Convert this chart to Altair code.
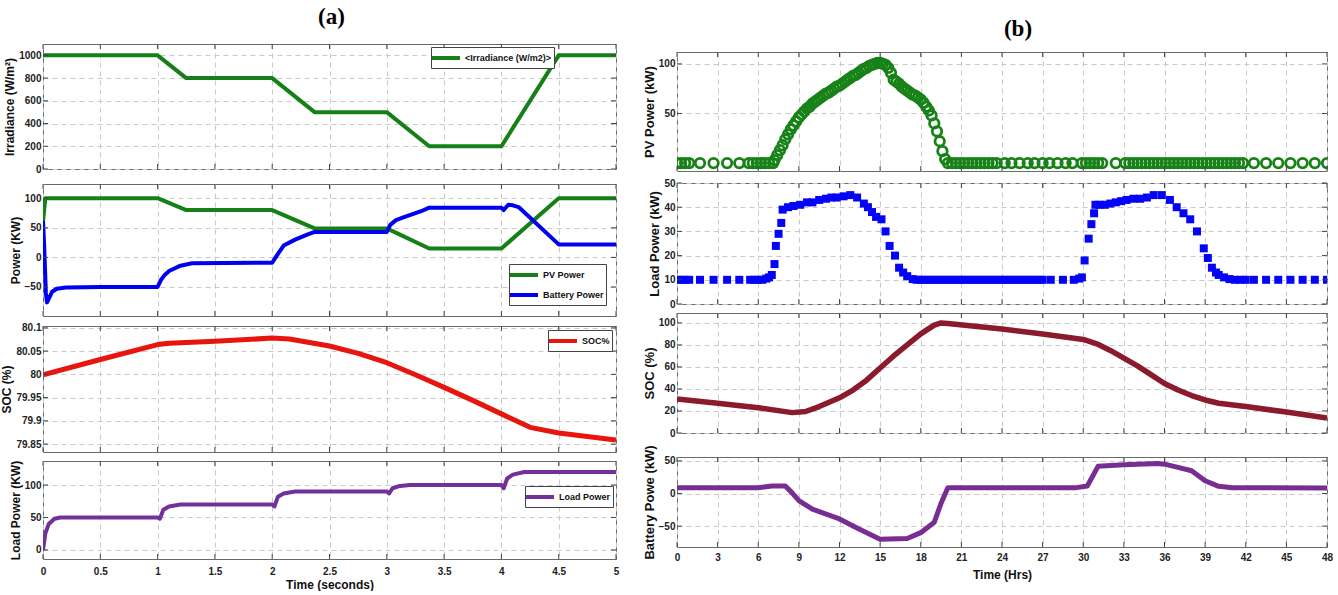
import altair as alt
import pandas as pd

LBL = "Liberation Sans, Arial, sans-serif"
SANS = "Liberation Sans, Arial, sans-serif"
SERIF = "Liberation Serif, Times New Roman, serif"

# ---------------- (a) data ----------------
left_xticks = [0, 0.5, 1, 1.5, 2, 2.5, 3, 3.5, 4, 4.5, 5]

irr_t = [0, 1.0, 1.25, 2.0, 2.37, 3.0, 3.37, 4.0, 4.5, 5.0]
irr_v = [1000, 1000, 800, 800, 500, 500, 200, 200, 1000, 1000]

pv_a_t = [0, 0.02, 1.0, 1.25, 2.0, 2.37, 3.0, 3.37, 4.0, 4.5, 5.0]
pv_a_v = [60, 100, 100, 80, 80, 49, 49, 15, 15, 100, 100]

bat_a_t = [0, 0.01, 0.025, 0.035, 0.05, 0.08, 0.12, 0.2, 0.5, 1.0, 1.03, 1.06, 1.1, 1.2, 1.3, 2.0,
           2.02, 2.05, 2.1, 2.2, 2.3, 2.37, 3.0, 3.03, 3.08, 3.15, 3.3, 3.37, 4.0, 4.02, 4.06, 4.1,
           4.15, 4.5, 5.0]
bat_a_v = [62, 20, -60, -76, -70, -58, -53, -51, -50, -50, -38, -30, -23, -14, -10, -9,
           -3, 6, 20, 30, 38, 43, 43, 55, 63, 68, 78, 84, 84, 80, 89, 88,
           85, 22, 22]

soc_a_t = [0, 0.5, 1.0, 1.1, 1.5, 2.0, 2.15, 2.5, 2.75, 3.0, 3.25, 3.5, 3.75, 4.0, 4.25, 4.5, 5.0]
soc_a_v = [79.999, 80.032, 80.064, 80.067, 80.071, 80.078, 80.076, 80.061, 80.045, 80.025, 79.999,
           79.972, 79.944, 79.915, 79.886, 79.874, 79.859]

load_a_t = [0, 0.02, 0.05, 0.1, 0.15, 1.0, 1.02, 1.05, 1.1, 1.2, 2.0, 2.02, 2.05, 2.1, 2.2, 3.0,
            3.02, 3.05, 3.1, 3.2, 4.0, 4.02, 4.05, 4.1, 4.2, 5.0]
load_a_v = [0, 25, 40, 48, 50, 50, 48, 62, 67, 70, 70, 67, 82, 87, 90, 90,
            87, 95, 98, 100, 100, 95, 110, 116, 120, 120]

# ---------------- (b) data ----------------
right_xticks = [0, 3, 6, 9, 12, 15, 18, 21, 24, 27, 30, 33, 36, 39, 42, 45, 48]

pv_b_t = [0, 0.3, 0.6, 0.9, 1.7, 2.7, 3.7, 4.6, 5.3, 5.6, 5.9, 6.2, 6.5, 6.8, 7.1,
          7.2, 7.4, 7.6, 7.8, 8.0, 8.2, 8.4, 8.6, 8.8, 9.0, 9.2, 9.4, 9.6, 9.8, 10.0, 10.2,
          10.4, 10.6, 10.8, 11.0, 11.2, 11.4, 11.6, 11.8, 12.0, 12.2, 12.4, 12.6, 12.8, 13.0,
          13.2, 13.4, 13.6, 13.8, 14.0, 14.2, 14.4, 14.6, 14.8, 15.0, 15.2, 15.4, 15.6, 15.8,
          16.0, 16.2, 16.4, 16.6, 16.8, 17.0, 17.2, 17.4, 17.6, 17.8, 18.0, 18.2, 18.4, 18.6,
          18.8, 19.0, 19.2, 19.4, 19.6, 19.8,
          20.0, 20.3, 20.6, 20.9, 21.2, 21.5, 21.8, 22.1, 22.4, 22.7, 23.0, 23.3, 23.6,
          24.2, 24.7, 25.3, 25.9, 26.4, 27.0, 27.5, 28.1, 28.7, 29.2,
          29.9, 30.2, 30.5, 30.8, 31.1, 31.4, 32.4,
          33.1, 33.4, 33.7, 34.0, 34.3, 34.6, 34.9, 35.2, 35.5, 35.8, 36.1, 36.4, 36.7, 37.0,
          37.3, 37.6, 37.9, 38.2, 38.5, 38.8, 39.1, 39.4, 39.7, 40.0, 40.3, 40.6, 40.9, 41.2,
          41.5, 41.8,
          42.6, 43.5, 44.4, 45.3, 46.2, 47.1, 48.0]
pv_b_v = [0, 0, 0, 0, 0, 0, 0, 0, 0, 0, 0, 0, 0, 0, 0,
          3, 8, 13, 18, 24, 29, 34, 38, 42, 46, 49, 52, 55, 57, 60, 62,
          64, 66, 68, 70, 71, 73, 75, 77, 78, 80, 82, 84, 86, 88,
          89, 91, 93, 95, 96, 98, 99, 100, 101, 101, 100, 99, 96, 91,
          84, 82, 80, 77, 75, 73, 71, 69, 68, 66, 64, 61, 57, 53,
          48, 40, 32, 22, 12, 4,
          0, 0, 0, 0, 0, 0, 0, 0, 0, 0, 0, 0, 0,
          0, 0, 0, 0, 0, 0, 0, 0, 0, 0,
          0, 0, 0, 0, 0, 0, 0,
          0, 0, 0, 0, 0, 0, 0, 0, 0, 0, 0, 0, 0, 0,
          0, 0, 0, 0, 0, 0, 0, 0, 0, 0, 0, 0, 0, 0,
          0, 0,
          0, 0, 0, 0, 0, 0, 0]

load_b_t = [0, 0.3, 0.6, 0.9, 1.7, 2.7, 3.7, 4.6, 5.4, 5.7, 6.0, 6.3, 6.6,
            6.8, 7.0, 7.2, 7.3, 7.5, 7.7, 7.8, 8.2, 8.6, 9.1, 9.6, 10.0, 10.5, 11.0, 11.4, 11.8,
            12.3, 12.8, 13.3, 13.8, 14.1, 14.4, 14.7, 15.1, 15.4, 15.7, 16.1, 16.4, 16.7, 17.0,
            17.4, 17.7, 18.0, 18.3, 18.6, 18.9, 19.2, 19.5, 19.8, 20.1, 20.4, 20.7, 21.0, 21.3,
            21.6, 21.9, 22.2, 22.5, 22.8, 23.1, 23.4, 23.7, 24.0, 24.3, 24.6, 24.9, 25.2, 25.5,
            25.8, 26.1, 26.4, 26.7, 27.0, 27.6, 28.5, 29.3,
            29.7, 29.9, 30.1, 30.4, 30.6, 30.8, 30.9, 31.2, 31.6, 32.0, 32.4, 32.8, 33.2, 33.7,
            34.2, 34.7, 35.2, 35.8, 36.4, 36.9, 37.4, 37.9, 38.4, 38.9, 39.2, 39.5, 39.8, 40.0,
            40.4, 40.8, 41.2, 41.6, 42.0, 42.6, 43.5, 44.4, 45.3, 46.2, 47.1, 48.0]
load_b_v = [10, 10, 10, 10, 10, 10, 10, 10, 10, 10, 10, 10, 10.5,
            11, 12, 16.5, 24, 29, 33.5, 39, 40, 40.5, 41, 42, 42, 43, 43.5, 44, 44,
            44.5, 45, 44, 41.5, 40, 38, 36, 35, 30, 24, 20, 15, 13, 11.5,
            10.3, 10, 10, 10, 10, 10, 10, 10, 10, 10, 10, 10, 10, 10,
            10, 10, 10, 10, 10, 10, 10, 10, 10, 10, 10, 10, 10, 10,
            10, 10, 10, 10, 10, 10, 10, 10,
            10.5, 11, 18, 27, 33, 37.5, 41, 41, 41, 41.5, 42, 42.5, 43, 43.5,
            43.5, 44, 45, 45, 43, 40, 37.5, 35, 30, 23, 19, 15, 13, 12,
            11, 10.3, 10, 10, 10, 10, 10, 10, 10, 10, 10, 10]

soc_b_t = [0, 3, 6, 8.5, 9.5, 10.5, 12, 13, 14, 15, 16, 17, 18, 19, 19.5, 20, 22, 24, 27, 30,
           31, 32, 33, 34, 35, 36, 37, 38, 39, 40, 42, 45, 48]
soc_b_v = [31, 27, 23, 18.5, 19.5, 24, 32, 39, 48, 59, 70, 80, 90, 98, 100, 99.5, 97, 94.5, 90, 85,
           81, 75, 68, 61, 53, 45, 39, 34, 30, 27, 24, 19, 13.5]

bat_b_t = [0, 6, 7, 8, 8.5, 9, 10, 12, 13.4, 15, 17, 18, 19, 19.5, 20, 25, 29.5, 30.3, 31.1, 33,
           35.5, 36, 37, 38, 39, 40, 41, 48]
bat_b_v = [9, 9, 11.5, 11.5, 1, -11, -24, -39, -54, -70, -69, -60, -44, -15, 9, 9, 9, 11.5, 42, 44,
           46, 45, 40, 35, 19.5, 11, 9, 8.5]

panel_titles = ["(a)", "(b)"]


def frame_df(t, v, s):
    return pd.DataFrame({"t": t, "v": v, "s": s})


def legend_at(x, y):
    return alt.Legend(orient="none", legendX=x, legendY=y, title=None, symbolType="M-2,0H2",
                      symbolStrokeWidth=4, symbolSize=196, symbolOffset=4, fillColor="white",
                      strokeColor="#444", padding=2, labelFont=LBL, labelFontSize=9,
                      labelFontWeight="bold", labelColor="#111", rowPadding=3, labelLimit=300,
                      labelOffset=10)


def panel(df, kind, xdom, xticks, ydom, yticks, w, h, ytitle, cdom, crange, legend,
          xlabels=False, xtitle=None, sw=4.0, size=60, yfmt="~r", tfs=12, lp=5, tp=2):
    xaxis = alt.Axis(values=xticks, grid=True, labels=xlabels, title=xtitle, format="~r",
                     labelFlush=False, labelOverlap=False, labelPadding=lp,
                     titleFontSize=12, titlePadding=tp)
    yaxis = alt.Axis(values=yticks, grid=True, title=ytitle, format=yfmt, labelFlush=False,
                     labelOverlap=False, titleFontSize=tfs)
    x = alt.X("t:Q", scale=alt.Scale(domain=xdom, nice=False, zero=False), axis=xaxis)
    y = alt.Y("v:Q", scale=alt.Scale(domain=ydom, nice=False, zero=False), axis=yaxis)
    color = alt.Color("s:N", scale=alt.Scale(domain=cdom, range=crange), legend=legend)
    if kind == "line":
        mk = alt.Chart(df).mark_line(strokeWidth=sw, clip=True, strokeJoin="round")
    elif kind == "circle":
        mk = alt.Chart(df).mark_point(shape="circle", filled=False, size=size, strokeWidth=sw,
                                      opacity=1, clip=True)
    else:
        mk = alt.Chart(df).mark_square(size=size, opacity=1, clip=True)
    main = mk.encode(x=x, y=y, color=color)

    xt = pd.DataFrame({"t": xticks})
    yt = pd.DataFrame({"v": yticks})
    r1 = alt.Chart(xt).mark_rule(color="#444").encode(x=x, y=alt.value(0), y2=alt.value(5))
    r2 = alt.Chart(xt).mark_rule(color="#444").encode(x=x, y=alt.value(h - 5), y2=alt.value(h))
    r3 = alt.Chart(yt).mark_rule(color="#444").encode(y=y, x=alt.value(0), x2=alt.value(5))
    r4 = alt.Chart(yt).mark_rule(color="#444").encode(y=y, x=alt.value(w - 5), x2=alt.value(w))
    return alt.layer(main, r1, r2, r3, r4).properties(width=w, height=h)


def gap(w, h):
    return alt.Chart(pd.DataFrame({"k": [0]})).mark_point(opacity=0, size=1).encode(
        x=alt.value(1), y=alt.value(1)
    ).properties(width=w, height=h, view=alt.ViewBackground(stroke="transparent"))


def header(w, h, label, cx, cy):
    return alt.Chart(pd.DataFrame({"lbl": [label]})).mark_text(
        font=SERIF, fontSize=23, fontWeight="bold", color="black", baseline="middle", align="center"
    ).encode(
        text="lbl:N", x=alt.value(cx), y=alt.value(cy)
    ).properties(width=w, height=h, view=alt.ViewBackground(stroke="transparent"))


LW, RW = 573, 650
GREEN = "#158015"
BLUE = "#0000f0"
RED = "#e8140e"
PURPLE = "#71309a"

a1 = panel(frame_df(irr_t, irr_v, "<Irradiance (W/m2)>"), "line", [0, 5], left_xticks,
           [0, 1100], [0, 200, 400, 600, 800, 1000], LW, 125, "Irradiance (W/m²)",
           ["<Irradiance (W/m2)>"], [GREEN], legend_at(388, 3), yfmt="d")

a2_df = pd.concat([frame_df(pv_a_t, pv_a_v, "PV Power"), frame_df(bat_a_t, bat_a_v, "Battery Power")])
a2 = panel(a2_df, "line", [0, 5], left_xticks, [-99, 124], [-50, 0, 50, 100], LW, 132,
           "Power (KW)", ["PV Power", "Battery Power"], [GREEN, BLUE], legend_at(466, 80))

a3 = panel(frame_df(soc_a_t, soc_a_v, "SOC%"), "line", [0, 5], left_xticks,
           [79.833, 80.104], [79.85, 79.9, 79.95, 80.0, 80.05, 80.1], LW, 126, "SOC (%)",
           ["SOC%"], [RED], legend_at(505, 4), sw=5)

a4 = panel(frame_df(load_a_t, load_a_v, "Load Power"), "line", [0, 5], left_xticks,
           [-14, 137], [0, 50, 100], LW, 98, "Load Power (KW)", ["Load Power"], [PURPLE],
           legend_at(482, 25), xlabels=True, xtitle="Time (seconds)", lp=7, tp=3)

b1 = panel(frame_df(pv_b_t, pv_b_v, "PV"), "circle", [0, 48], right_xticks, [-8, 112], [50, 100],
           RW, 119, "PV Power (kW)", ["PV"], ["#178217"], None, sw=2.8, size=90, tfs=13)
b2 = panel(frame_df(load_b_t, load_b_v, "Load"), "square", [0, 48], right_xticks, [0, 50],
           [0, 10, 20, 30, 40, 50], RW, 121, "Load Power (kW)", ["Load"], ["#0505f5"], None,
           size=64, tfs=13)
b3 = panel(frame_df(soc_b_t, soc_b_v, "SOC"), "line", [0, 48], right_xticks, [0, 109],
           [0, 20, 40, 60, 80, 100], RW, 120, "SOC (%)", ["SOC"], ["#8a1a2c"], None, sw=5.5, tfs=13)
b4 = panel(frame_df(bat_b_t, bat_b_v, "Bat"), "line", [0, 48], right_xticks, [-82, 56],
           [-50, 0, 50], RW, 90, "Battery Powe (kW)", ["Bat"], ["#782d92"], None, sw=5,
           xlabels=True, xtitle="Time (Hrs)", tfs=13, lp=5, tp=7)

left = alt.vconcat(
    header(LW, 43, panel_titles[0], LW / 2 + 2, 16),
    a1, gap(LW, 15), a2, gap(LW, 10), a3, gap(LW, 9), a4,
    spacing=0, bounds="flush",
).resolve_scale(color="independent")

right = alt.vconcat(
    header(RW, 51, panel_titles[1], RW / 2 + 16, 28),
    b1, gap(RW, 12), b2, gap(RW, 9), b3, gap(RW, 24), b4,
    spacing=0, bounds="flush",
).resolve_scale(color="independent")

chart = alt.hconcat(left, right, spacing=22).resolve_scale(color="independent").properties(
    padding={"left": 0, "top": 0, "right": 0, "bottom": 0}, background="white"
).configure_view(
    stroke="#6a6a6a", strokeWidth=1
).configure_axis(
    domain=False, ticks=False, gridColor="#c9c9c9", gridDash=[5, 4], gridWidth=1,
    labelFont=LBL, labelFontSize=10, labelFontWeight="bold", labelColor="#222",
    titleFont=SANS, titleFontWeight="bold", titleColor="#111",
    labelPadding=2, titlePadding=2,
)

chart.save("out.html", embed_options={"renderer": "svg", "actions": False})
